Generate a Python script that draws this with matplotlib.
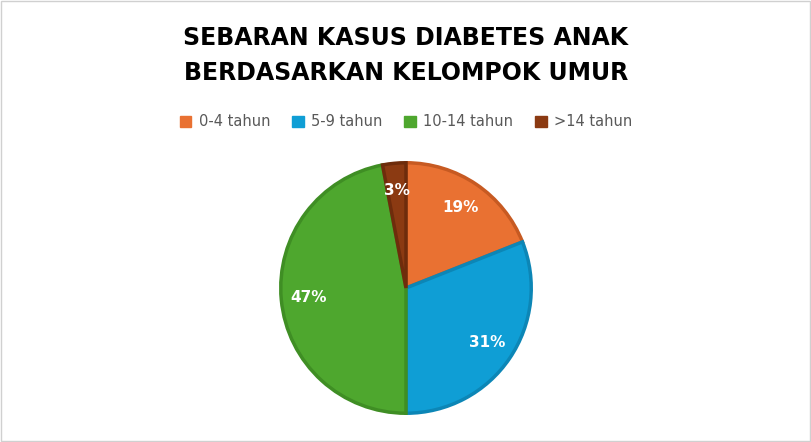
import matplotlib
matplotlib.use("Agg")
import matplotlib.pyplot as plt
from matplotlib.patches import Rectangle, Patch

labels = ["0-4 tahun", "5-9 tahun", "10-14 tahun", ">14 tahun"]
values = [19, 31, 47, 3]
colors = ["#E97132", "#0F9ED5", "#4EA72E", "#8B3A12"]
edges = ["#C75A22", "#0C86B6", "#3F8E24", "#6E2C0C"]

fig = plt.figure(figsize=(8.12, 4.42), dpi=100)
fig.patches.append(Rectangle((0.001, 0.002), 0.997, 0.995, transform=fig.transFigure,
                             fill=False, edgecolor="#D0D0D0", linewidth=1))
fig.text(0.5, 0.915, "SEBARAN KASUS DIABETES ANAK", ha="center", va="center",
         fontsize=17, fontweight="bold", color="black", family="DejaVu Sans")
fig.text(0.5, 0.835, "BERDASARKAN KELOMPOK UMUR", ha="center", va="center",
         fontsize=17, fontweight="bold", color="black", family="DejaVu Sans")

cx, cy, r = 406, 288, 129
ax = fig.add_axes([(cx - r) / 812, (442 - cy - r) / 442, 2 * r / 812, 2 * r / 442])
wedges, texts, autotexts = ax.pie(values, colors=colors, startangle=90, counterclock=False,
                                  autopct="%d%%", pctdistance=0.78,
                                  wedgeprops=dict(linewidth=2.5))
for w, e in zip(wedges, edges):
    w.set_edgecolor(e)
for t in autotexts:
    t.set_color("white"); t.set_fontsize(11); t.set_fontweight("bold")
ax.set_xlim(-1.03, 1.03); ax.set_ylim(-1.03, 1.03)
ax.set_aspect("equal")

handles = [Patch(facecolor=c, edgecolor=c) for c in colors]
fig.legend(handles, labels, loc="center", bbox_to_anchor=(0.5, 0.724), ncol=4, frameon=False,
           fontsize=10.5, labelcolor="#595959", handlelength=0.8, handleheight=0.8,
           columnspacing=1.5, handletextpad=0.5)
fig.savefig("out.png", dpi=100)
